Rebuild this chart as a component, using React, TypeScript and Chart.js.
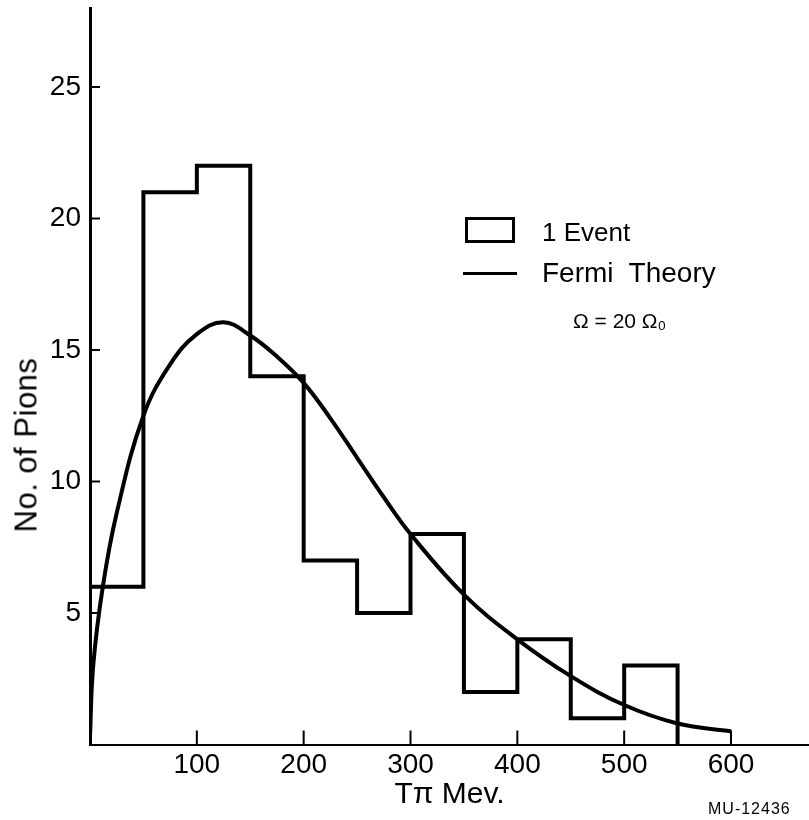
import React, { useEffect, useRef } from "react";
import { Chart, registerables } from "chart.js";

Chart.register(...registerables);

// ---- data ----
const binEdges = [0, 50, 100, 150, 200, 250, 300, 350, 400, 450, 500, 550];
const pionCounts = [6, 21, 22, 14, 7, 5, 8, 2, 4, 1, 3];

const fermiEnergy = [0, 3, 12, 25, 50, 75, 100, 125, 150, 175, 200, 225, 250, 275, 300, 350, 400, 450, 500, 550, 600];
const fermiPions = [0.3, 3.0, 6.0, 8.8, 12.5, 14.45, 15.6, 16.05, 15.55, 14.75, 13.75, 12.4, 10.9, 9.4, 8.0, 5.7, 4.0, 2.6, 1.5, 0.8, 0.5];

const xTickValues = [100, 200, 300, 400, 500, 600];
const yTickValues = [5, 10, 15, 20, 25];

const xAxisTitle = "Tπ Mev.";
const yAxisTitle = "No. of Pions";
const legendEvent = "1 Event";
const legendFermi = "Fermi  Theory";
const legendOmega = "Ω = 20 Ω₀";
const figureCode = "MU-12436";

const FONT = "'Liberation Sans', Arial, sans-serif";

const innerTicks = {
  id: "innerTicks",
  afterDatasetsDraw(chart: any) {
    const { ctx, chartArea } = chart;
    const x = chart.scales.x;
    const y = chart.scales.y;
    ctx.save();
    ctx.strokeStyle = "#000";
    ctx.lineWidth = 2;
    ctx.beginPath();
    xTickValues.forEach((v) => {
      const px = x.getPixelForValue(v);
      ctx.moveTo(px, chartArea.bottom);
      ctx.lineTo(px, chartArea.bottom - 14);
    });
    yTickValues.forEach((v) => {
      const py = y.getPixelForValue(v);
      ctx.moveTo(chartArea.left, py);
      ctx.lineTo(chartArea.left + 10, py);
    });
    ctx.stroke();
    ctx.restore();
  },
};

export default function App() {
  const canvasRef = useRef<HTMLCanvasElement | null>(null);

  useEffect(() => {
    if (!canvasRef.current) return;
    const histPoints: { x: number; y: number }[] = [{ x: binEdges[0], y: 0 }];
    pionCounts.forEach((c, i) => {
      histPoints.push({ x: binEdges[i], y: c });
      histPoints.push({ x: binEdges[i + 1], y: c });
    });
    histPoints.push({ x: binEdges[binEdges.length - 1], y: 0 });

    const fermiPoints = fermiEnergy.map((e, i) => ({ x: e, y: fermiPions[i] }));

    const chart = new Chart(canvasRef.current, {
      type: "line",
      data: {
        datasets: [
          {
            label: legendEvent,
            data: histPoints,
            borderColor: "#000",
            borderWidth: 4,
            pointRadius: 0,
            tension: 0,
            fill: false,
            borderJoinStyle: "miter",
          } as any,
          {
            label: legendFermi,
            data: fermiPoints,
            borderColor: "#000",
            borderWidth: 4,
            pointRadius: 0,
            tension: 0.4,
            fill: false,
          } as any,
        ],
      },
      options: {
        responsive: false,
        animation: false,
        devicePixelRatio: 1,
        layout: { padding: { top: 8, right: 0, bottom: 0, left: 0 } },
        plugins: {
          legend: { display: false },
          tooltip: { enabled: false },
        },
        scales: {
          x: {
            type: "linear",
            min: 0,
            max: 673,
            afterBuildTicks: (s: any) => {
              s.ticks = xTickValues.map((v) => ({ value: v }));
            },
            afterFit: (s: any) => {
              s.height = 75.5;
              s.paddingLeft = 0;
              s.paddingRight = 0;
            },
            grid: { display: false, drawTicks: false },
            border: { display: true, color: "#000", width: 2 },
            ticks: {
              color: "#000",
              font: { family: FONT, size: 28 },
              padding: 4,
              maxRotation: 0,
              autoSkip: false,
            },
            title: {
              display: true,
              text: xAxisTitle,
              color: "#000",
              font: { family: FONT, size: 30 },
              padding: { top: 0, bottom: 7.5 },
            },
          },
          y: {
            type: "linear",
            min: 0,
            max: 28,
            afterBuildTicks: (s: any) => {
              s.ticks = yTickValues.map((v) => ({ value: v }));
            },
            afterFit: (s: any) => {
              s.width = 90;
              s.paddingTop = 0;
              s.paddingBottom = 0;
            },
            grid: { display: false, drawTicks: false },
            border: { display: true, color: "#000", width: 3 },
            ticks: {
              color: "#000",
              font: { family: FONT, size: 28 },
              padding: 9,
              autoSkip: false,
            },
          },
        },
      } as any,
      plugins: [innerTicks],
    });
    return () => chart.destroy();
  }, []);

  const text = (style: React.CSSProperties): React.CSSProperties => ({
    position: "absolute",
    fontFamily: FONT,
    color: "#000",
    lineHeight: 1,
    whiteSpace: "pre",
    ...style,
  });

  return (
    <div
      style={{
        position: "fixed",
        left: 0,
        top: 0,
        width: 809,
        height: 820,
        background: "#fff",
        overflow: "hidden",
      }}
    >
      <canvas ref={canvasRef} width={809} height={820} style={{ display: "block" }} />
      <div
        style={text({
          left: 26,
          top: 445,
          fontSize: 31,
          letterSpacing: 0.5,
          transform: "translate(-50%, -50%) rotate(-90deg)",
        })}
      >
        {yAxisTitle}
      </div>
      <div
        style={{
          position: "absolute",
          left: 465,
          top: 217,
          width: 50,
          height: 26,
          border: "3px solid #000",
          boxSizing: "border-box",
        }}
      />
      <div style={text({ left: 542, top: 219, fontSize: 26 })}>{legendEvent}</div>
      <div
        style={{
          position: "absolute",
          left: 463,
          top: 272,
          width: 54,
          height: 3,
          background: "#000",
        }}
      />
      <div style={text({ left: 542, top: 259, fontSize: 28 })}>{legendFermi}</div>
      <div style={text({ left: 573, top: 310, fontSize: 21 })}>{legendOmega}</div>
      <div style={text({ left: 708, top: 801, fontSize: 16, letterSpacing: 1 })}>{figureCode}</div>
    </div>
  );
}
